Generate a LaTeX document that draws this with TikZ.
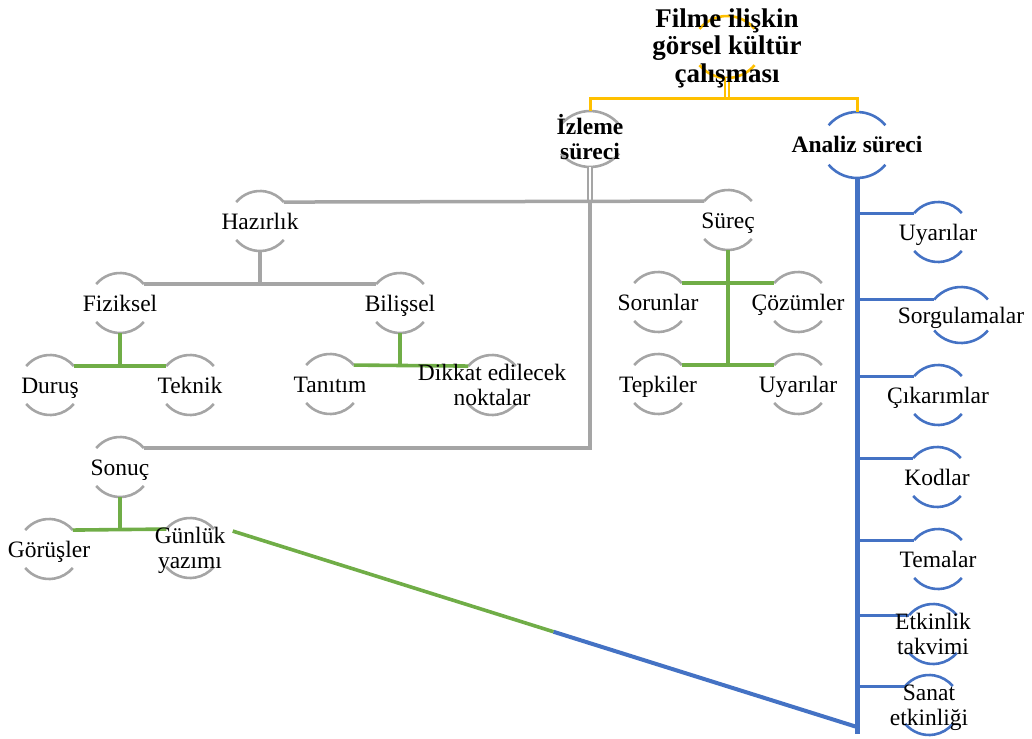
\documentclass[tikz,border=0pt]{standalone}
\usepackage{fontspec}
\setmainfont{Liberation Serif}
\usetikzlibrary{calc}
\definecolor{cyel}{HTML}{FFC000}
\definecolor{cgray}{HTML}{A5A5A5}
\definecolor{cgreen}{HTML}{70AD47}
\definecolor{cblue}{HTML}{4472C4}
\newcommand\st{\rule[-6pt]{0pt}{28pt}}
\pgfdeclarelayer{bg}
\pgfsetlayers{bg,main}
% #1 node name, #2 colour, #3 arc radius, #4 apex offset
\newcommand\brk[4]{%
  \begin{scope}[shift={(#1.center)}]
    \draw[arcln,#2] (0,#4-#3) ++(140:#3) coordinate (#1-tl)
      arc[start angle=140,end angle=40,radius=#3] coordinate (#1-tr);
    \draw[arcln,#2] (0,#3-#4) ++(220:#3) coordinate (#1-bl)
      arc[start angle=220,end angle=320,radius=#3] coordinate (#1-br);
    \coordinate (#1-t) at (0,#4);
    \coordinate (#1-b) at (0,-#4);
  \end{scope}}
\begin{document}
\begin{tikzpicture}[x=1pt,y=1pt,
  lbl/.style={inner sep=0pt, align=center,
    font={\fontsize{23.5}{24.5}\selectfont\lineskiplimit=-30pt}},
  blbl/.style={inner sep=0pt, align=center,
    font={\bfseries\fontsize{23.5}{24.5}\selectfont\lineskiplimit=-30pt}},
  rootlbl/.style={inner sep=0pt, align=center,
    font={\bfseries\fontsize{27}{27.5}\selectfont\lineskiplimit=-30pt}},
  arcln/.style={line width=2.6pt},
  yl/.style={cyel, line width=3pt},
  ydbl/.style={cyel, line width=1.8pt, double=white, double distance=2pt},
  gl/.style={cgray, line width=3.5pt},
  gdbl/.style={cgray, line width=2pt, double=white, double distance=2pt},
  gn/.style={cgreen, line width=3.6pt},
  bmain/.style={cblue, line width=5pt},
  bbr/.style={cblue, line width=3pt}]
\useasboundingbox (0,0) rectangle (1032,-738);

% top
\node[rootlbl] (root) at (727,-47) {\st Filme ilişkin\\\st görsel kültür\\\st çalışması};
\node[blbl] (izleme) at (590,-139) {\st İzleme\\\st süreci};
\node[blbl] (analiz) at (857,-145) {\st Analiz süreci};

% izleme branch
\node[lbl] (haz) at (260,-221) {\st Hazırlık};
\node[lbl] (surec) at (728,-220) {\st Süreç};
\node[lbl] (fiz) at (120,-303) {\st Fiziksel};
\node[lbl] (bil) at (400,-303) {\st Bilişsel};
\node[lbl] (durus) at (50,-385) {\st Duruş};
\node[lbl] (teknik) at (190,-385) {\st Teknik};
\node[lbl] (tanitim) at (330,-384) {\st Tanıtım};
\node[lbl] (dikkat) at (492,-385) {\st Dikkat edilecek\\\st noktalar};
\node[lbl] (sorun) at (658,-302) {\st Sorunlar};
\node[lbl] (cozum) at (798,-302) {\st Çözümler};
\node[lbl] (tepk) at (658,-384) {\st Tepkiler};
\node[lbl] (uyar) at (798,-384) {\st Uyarılar};
\node[lbl] (sonuc) at (120,-467) {\st Sonuç};
\node[lbl] (gorus) at (49,-549) {\st Görüşler};
\node[lbl] (gunluk) at (190,-548) {\st Günlük\\\st yazımı};

% analiz branch
\node[lbl] (a1) at (938,-232) {\st Uyarılar};
\node[lbl] (a2) at (961,-315) {\st Sorgulamalar};
\node[lbl] (a3) at (938,-395) {\st Çıkarımlar};
\node[lbl] (a4) at (937,-477) {\st Kodlar};
\node[lbl] (a5) at (938,-559) {\st Temalar};
\node[lbl] (a6) at (933,-634) {\st Etkinlik\\\st takvimi};
\node[lbl] (a7) at (929,-705) {\st Sanat\\\st etkinliği};

\begin{pgfonlayer}{bg}
  \brk{root}{cyel}{36}{31}
  \brk{izleme}{cgray}{38}{28}
  \brk{analiz}{cblue}{37}{33}
  \foreach \n in {haz,surec,fiz,bil,durus,teknik,tanitim,dikkat,sorun,cozum,tepk,uyar,sonuc,gorus,gunluk}
    {\brk{\n}{cgray}{31}{30}}
  \foreach \n in {a1,a3,a4,a5,a6,a7}
    {\brk{\n}{cblue}{31}{30}}
  \brk{a2}{cblue}{35}{28}

  % yellow connectors
  \coordinate (yj) at ($(root-b)+(0,-21)$);
  \draw[ydbl] (root-b) -- (yj);
  \draw[yl] (izleme-t) |- (yj) -| (analiz-t);

  % gray connectors
  \coordinate (gj) at (izleme-b |- haz-tr);
  \draw[gdbl] (izleme-b) -- (gj);
  \draw[gl] (haz-tr) -- (surec-tl);
  \draw[gl] (gj) |- (sonuc-tr);
  \draw[gl, line width=4.5pt] (haz-b) -- (haz-b |- fiz-tr);
  \draw[gl] (fiz-tr) -- (bil-tl);

  % green connectors
  \draw[gn] (fiz-b) -- (fiz-b |- durus-tr);
  \draw[gn] (durus-tr) -- (teknik-tl);
  \draw[gn] (bil-b) -- (bil-b |- tanitim-tr);
  \draw[gn] (tanitim-tr) -- (dikkat-tl);
  \draw[gn] (surec-b) -- (surec-b |- tepk-tr);
  \draw[gn] (sorun-tr) -- (cozum-tl);
  \draw[gn] (tepk-tr) -- (uyar-tl);
  \draw[gn] (sonuc-b) -- (sonuc-b |- gorus-tr);
  \draw[gn] (gorus-tr) -- (gunluk-tl);

  % diagonal link
  \coordinate (dstart) at ($(gunluk-tr)+(19,-2)$);
  \coordinate (dend) at (analiz-b |- 0,-727);
  \coordinate (dmid) at ($(dstart)!0.514!(dend)$);
  \draw[gn] (dstart) -- (dmid);
  \draw[bmain, line width=4pt] (dmid) -- (dend);

  % blue connectors
  \coordinate (bend) at (analiz-b |- 0,-734);
  \draw[bmain] (analiz-b) -- (bend);
  \foreach \n in {a1,a2,a3,a4,a5,a6,a7}
    {\draw[bbr] (analiz-b |- \n-tl) -- (\n-tl);}
\end{pgfonlayer}
\end{tikzpicture}
\end{document}
